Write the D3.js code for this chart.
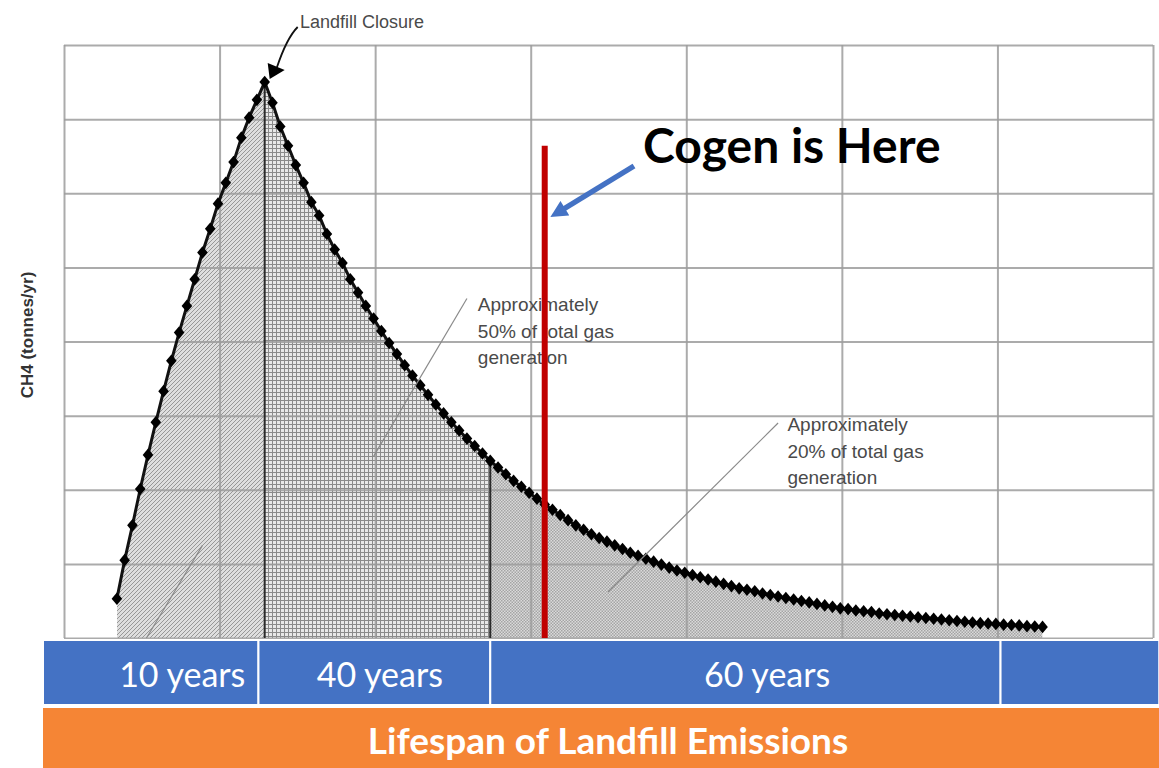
<!DOCTYPE html>
<html>
<head>
<meta charset="utf-8">
<script src="https://cdn.jsdelivr.net/npm/d3@7/dist/d3.min.js"></script>
<style>
  body { margin: 0; background: #fff; }
  svg { display: block; }
</style>
</head>
<body>
<div id="landfill-chart"></div>
<script>
// --------------------------------------------------------- Data
// CH4 generation (grid row = 10 units)
var riseValues = [5.3, 10.5, 15.2, 20.1, 24.7, 29.1, 33.3, 37.4, 41.2, 44.8,
                  48.4, 52.0, 55.2, 58.6, 61.4, 64.2, 67.5, 70.2, 72.6, 75.0];
var decayValues = [72.2, 69.0, 66.4, 63.8, 61.4, 58.8, 57.0, 54.5, 52.4, 50.6,
                   48.4, 46.6, 44.8, 43.1, 41.4, 39.8, 38.3, 36.8, 35.4, 34.1,
                   32.8, 31.5, 30.3, 29.1, 28.0, 26.9, 25.9, 24.9, 23.9, 23.0,
                   22.1, 21.2, 20.4, 19.6, 18.8, 18.0, 17.3, 16.6, 15.9, 15.2,
                   14.6, 14.0, 13.5, 13.0, 12.5, 12.0, 11.5, 11.1, 10.7, 10.3,
                   9.9, 9.5, 9.1, 8.8, 8.5, 8.2, 7.9, 7.6, 7.3, 7.0,
                   6.7, 6.5, 6.3, 6.0, 5.8, 5.6, 5.4, 5.2, 5.0, 4.8,
                   4.6, 4.4, 4.2, 4.0, 3.9, 3.7, 3.6, 3.5, 3.3, 3.2,
                   3.1, 3.0, 2.9, 2.8, 2.7, 2.6, 2.5, 2.4, 2.3, 2.2,
                   2.1, 2.0, 1.95, 1.9, 1.8, 1.75, 1.7, 1.6, 1.55, 1.5];
var sampleStart = 3.4;
var sampleStep  = 0.5;

var xTicks = [0, 10, 20, 30, 40, 50, 60, 70];
var yTicks = [0, 10, 20, 30, 40, 50, 60, 70, 80];

var sectionEdges    = [3.4, 12.9, 27.4, 62.9];
var sectionPatterns = ['hatch', 'crosshatch', 'stipple'];

var cogenAt  = 30.9;
var cogenTop = 66.4;

var bandEdges  = [-1.35, 12.5, 27.4, 60.2, 70.4];
var bandLabels = ['10 years', '40 years', '60 years', ''];
var bandLabelAt = [7.6, 20.3, 45.2, 65];
// -------------------------------------------------------- /Data

var width = 1159, height = 768;
var plot = {left: 64, right: 1153, top: 45, bottom: 638};

var x = d3.scaleLinear().domain([0, 70]).range([plot.left, plot.right]);
var y = d3.scaleLinear().domain([0, 80]).range([plot.bottom, plot.top]);

var points = riseValues.concat(decayValues).map(function(v, i) {
  return {t: sampleStart + i * sampleStep, v: v};
});
var peak = points[riseValues.length - 1];
function valueAt(t) {
  return points[Math.round((t - sampleStart) / sampleStep)].v;
}

var svg = d3.select('#landfill-chart').append('svg')
    .attr('width', width)
    .attr('height', height);

// --------------------------------------------------------- Fill patterns
var defs = svg.append('defs');

var hatch = defs.append('pattern').attr('id', 'hatch')
    .attr('patternUnits', 'userSpaceOnUse').attr('width', 4).attr('height', 4);
hatch.append('rect').attr('width', 4).attr('height', 4).attr('fill', '#dedede');
hatch.append('path').attr('d', 'M-1,1 l2,-2 M0,4 l4,-4 M3,5 l2,-2')
    .attr('stroke', '#8e8e8e').attr('stroke-width', 0.9);

var cross = defs.append('pattern').attr('id', 'crosshatch')
    .attr('patternUnits', 'userSpaceOnUse').attr('width', 4).attr('height', 4);
cross.append('rect').attr('width', 4).attr('height', 4).attr('fill', '#e8e8e8');
cross.append('path').attr('d', 'M0,0.5 H4 M0.5,0 V4')
    .attr('stroke', '#8a8a8a').attr('stroke-width', 1);

var stipple = defs.append('pattern').attr('id', 'stipple')
    .attr('patternUnits', 'userSpaceOnUse').attr('width', 3).attr('height', 3);
stipple.append('rect').attr('width', 3).attr('height', 3).attr('fill', '#dadada');
stipple.append('rect').attr('width', 1.5).attr('height', 1.5).attr('fill', '#a4a4a4');
stipple.append('rect').attr('x', 1.5).attr('y', 1.5).attr('width', 1.5).attr('height', 1.5).attr('fill', '#a4a4a4');

sectionPatterns.forEach(function(p, i) {
  defs.append('clipPath').attr('id', 'clip-' + p)
    .append('rect')
      .attr('x', x(sectionEdges[i]))
      .attr('y', plot.top)
      .attr('width', x(sectionEdges[i + 1]) - x(sectionEdges[i]))
      .attr('height', plot.bottom - plot.top);
});

defs.append('marker').attr('id', 'blue-head')
    .attr('markerUnits', 'userSpaceOnUse')
    .attr('viewBox', '0 0 10 10')
    .attr('refX', 2).attr('refY', 5)
    .attr('markerWidth', 18).attr('markerHeight', 17)
    .attr('orient', 'auto')
  .append('path').attr('d', 'M0,0 L10,5 L0,10 z').attr('fill', '#4472c4');

// --------------------------------------------------------- Areas
var area = d3.area()
    .x(function(d) { return x(d.t); })
    .y0(y(0))
    .y1(function(d) { return y(d.v); });

sectionPatterns.forEach(function(p) {
  svg.append('path')
      .datum(points)
      .attr('d', area)
      .attr('fill', 'url(#' + p + ')')
      .attr('clip-path', 'url(#clip-' + p + ')');
});

// --------------------------------------------------------- Grid
var grid = svg.append('g').attr('class', 'grid');
grid.append('g')
    .attr('transform', 'translate(0,' + plot.bottom + ')')
    .call(d3.axisBottom(x).tickValues(xTicks).tickSize(-(plot.bottom - plot.top)).tickFormat(''));
grid.append('g')
    .attr('transform', 'translate(' + plot.left + ',0)')
    .call(d3.axisLeft(y).tickValues(yTicks).tickSize(-(plot.right - plot.left)).tickFormat(''));
grid.selectAll('.domain').remove();
grid.selectAll('line').attr('stroke', '#9c9c9c').attr('stroke-width', 2).attr('stroke-opacity', 0.85);

// section boundaries
svg.append('g').selectAll('line')
    .data([sectionEdges[1], sectionEdges[2]])
  .enter().append('line')
    .attr('x1', function(d) { return x(d); })
    .attr('x2', function(d) { return x(d); })
    .attr('y1', y(0))
    .attr('y2', function(d) { return y(valueAt(d)); })
    .attr('stroke', '#2a2a2a')
    .attr('stroke-width', 2);

// --------------------------------------------------------- Curve
svg.append('path')
    .datum(points)
    .attr('d', d3.line().x(function(d) { return x(d.t); }).y(function(d) { return y(d.v); }))
    .attr('fill', 'none')
    .attr('stroke', '#111')
    .attr('stroke-width', 3);

var diamond = {
  draw: function(ctx) {
    ctx.moveTo(0, -6.3); ctx.lineTo(5.3, 0); ctx.lineTo(0, 6.3); ctx.lineTo(-5.3, 0); ctx.closePath();
  }
};
svg.append('g').selectAll('path')
    .data(points)
  .enter().append('path')
    .attr('d', d3.symbol().type(diamond))
    .attr('transform', function(d) { return 'translate(' + x(d.t) + ',' + y(d.v) + ')'; })
    .attr('fill', '#000');

// --------------------------------------------------------- Annotations
var notes = svg.append('g')
    .attr('font-family', 'Liberation Sans, Arial, sans-serif')
    .attr('fill', '#4a4a4a');

var leaders = [
  [[x(8.9), y(12.5)], [x(5.3), y(0)]],
  [[x(25.9), y(45.8)], [x(19.9), y(24.5)]],
  [[x(45.9), y(29.0)], [x(34.97), y(6.2)]]
];
svg.append('g').selectAll('line')
    .data(leaders)
  .enter().append('line')
    .attr('x1', function(d) { return d[0][0]; }).attr('y1', function(d) { return d[0][1]; })
    .attr('x2', function(d) { return d[1][0]; }).attr('y2', function(d) { return d[1][1]; })
    .attr('stroke', '#8a8a8a').attr('stroke-width', 1.2);

function block(lines, tx, ty) {
  var t = notes.append('text').attr('font-size', 19);
  lines.forEach(function(s, i) {
    t.append('tspan').attr('x', tx).attr('y', ty + i * 26.5).text(s);
  });
}
block(['Approximately', '50% of total gas', 'generation'], x(26.6), y(44.1));
block(['Approximately', '20% of total gas', 'generation'], x(46.5), y(27.9));

notes.append('text')
    .attr('x', x(15.17)).attr('y', 28)
    .attr('font-size', 18)
    .text('Landfill Closure');

svg.append('path')
    .attr('d', 'M' + (x(peak.t) + 33) + ',27 Q' + (x(peak.t) + 22) + ',38 ' + (x(peak.t) + 12) + ',' + (y(peak.v) - 14))
    .attr('fill', 'none').attr('stroke', '#111').attr('stroke-width', 1.8);
svg.append('path')
    .attr('d', 'M' + (x(peak.t) + 3) + ',' + (y(peak.v) - 19) +
               ' L' + (x(peak.t) + 20) + ',' + (y(peak.v) - 12) +
               ' L' + (x(peak.t) + 5) + ',' + (y(peak.v) - 3) + ' Z')
    .attr('fill', '#000');

svg.append('text')
    .attr('transform', 'translate(27,335) rotate(-90)')
    .attr('text-anchor', 'middle')
    .attr('dominant-baseline', 'central')
    .attr('font-family', 'Liberation Sans, Arial, sans-serif')
    .attr('font-weight', 'bold')
    .attr('font-size', 17)
    .attr('fill', '#333')
    .text('CH4 (tonnes/yr)');

// --------------------------------------------------------- Cogen marker
svg.append('line')
    .attr('x1', x(cogenAt)).attr('x2', x(cogenAt))
    .attr('y1', y(0)).attr('y2', y(cogenTop))
    .attr('stroke', '#c00000')
    .attr('stroke-width', 6);

svg.append('line')
    .attr('x1', 634).attr('y1', 166)
    .attr('x2', 562).attr('y2', 210)
    .attr('stroke', '#4472c4')
    .attr('stroke-width', 5.5)
    .attr('marker-end', 'url(#blue-head)');

svg.append('text')
    .attr('x', 643).attr('y', 163)
    .attr('font-family', 'Lato, sans-serif')
    .attr('font-weight', 'bold')
    .attr('font-size', 48)
    .attr('fill', '#000')
    .text('Cogen is Here');

// --------------------------------------------------------- Lifespan bands
var bands = svg.append('g');
bands.selectAll('rect')
    .data(bandLabels)
  .enter().append('rect')
    .attr('x', function(d, i) { return x(bandEdges[i]); })
    .attr('y', 640)
    .attr('width', function(d, i) { return x(bandEdges[i + 1]) - x(bandEdges[i]); })
    .attr('height', 65)
    .attr('fill', '#4472c4')
    .attr('stroke', '#fff')
    .attr('stroke-width', 2);

bands.selectAll('text')
    .data(bandLabels)
  .enter().append('text')
    .attr('x', function(d, i) { return x(bandLabelAt[i]); })
    .attr('y', 687)
    .attr('text-anchor', 'middle')
    .attr('font-family', 'Lato, sans-serif')
    .attr('font-size', 34)
    .attr('fill', '#fff')
    .text(function(d) { return d; });

svg.append('rect')
    .attr('x', x(bandEdges[0])).attr('y', 708)
    .attr('width', width - x(bandEdges[0])).attr('height', 60)
    .attr('fill', '#f58535');

svg.append('text')
    .attr('x', 608).attr('y', 754)
    .attr('text-anchor', 'middle')
    .attr('font-family', 'Lato, sans-serif')
    .attr('font-weight', 'bold')
    .attr('font-size', 37)
    .attr('fill', '#fff')
    .text('Lifespan of Landfill Emissions');
</script>
</body>
</html>
